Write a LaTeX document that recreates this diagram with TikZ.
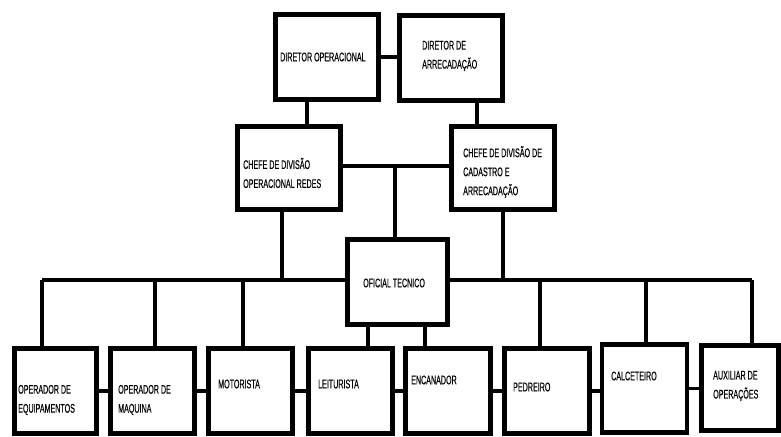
\documentclass[tikz,border=0pt]{standalone}
\usepackage{fontspec}
\setmainfont[FakeBold=0.4]{Liberation Sans}
\usetikzlibrary{positioning}
\newcommand{\nar}[1]{\scalebox{0.57}[1]{#1}}

\begin{document}
\begin{tikzpicture}[x=1pt,y=-1pt,
    box/.style={draw,line width=4.8pt,minimum width=84pt,minimum height=84.5pt,inner sep=0pt},
    txt/.style={anchor=west,align=left,inner sep=0pt,font=\fontsize{12.5}{19}\selectfont},
    link/.style={line width=3.8pt}]
  \useasboundingbox (0,0) rectangle (781,436);
  % chefes
  \node[box,minimum width=103.5pt,minimum height=85.5pt] (dop) at (327,57) {};
  \node[box,minimum width=103.5pt,minimum height=85.5pt] (dar) at (451,58) {};
  \node[box,minimum width=103.5pt,minimum height=83.5pt] (cop) at (289,168) {};
  \node[box,minimum width=103.5pt,minimum height=83.5pt] (ccad) at (503,168) {};
  \node[box,minimum width=100.5pt,minimum height=85.5pt] (ofi) at (397.5,282) {};
  % cargos
  \node[box,minimum width=82.5pt] (b1) at (55.5,391) {};
  \node[box] (b2) at (152.5,391) {};
  \node[box] (b3) at (250.5,391) {};
  \node[box] (b4) at (350.5,391) {};
  \node[box,minimum width=85.5pt] (b5) at (448,391) {};
  \node[box,minimum width=85.5pt] (b6) at (547,391) {};
  \node[box,minimum width=85pt,minimum height=88pt] (b7) at (644.5,388.5) {};
  \node[box,minimum width=77pt,minimum height=85pt] (b8) at (740,388) {};

  \node[txt] (dop-t) at (280,57) {\nar{DIRETOR OPERACIONAL}};
  \node[txt] (dar-t) at (422,56) {\nar{DIRETOR DE}\\\nar{ARRECADAÇÃO}};
  \node[txt] (cop-t) at (243,173) {\nar{CHEFE DE DIVISÃO}\\\nar{OPERACIONAL REDES}};
  \node[txt] (ccad-t) at (463,172) {\nar{CHEFE DE DIVISÃO DE}\\\nar{CADASTRO E}\\\nar{ARRECADAÇÃO}};
  \node[txt] (ofi-t) at (363,283) {\nar{OFICIAL TECNICO}};
  \node[txt] (b1-t) at (18,400) {\nar{OPERADOR DE}\\\nar{EQUIPAMENTOS}};
  \node[txt] (b2-t) at (118,400) {\nar{OPERADOR DE}\\\nar{MAQUINA}};
  \node[txt] (b3-t) at (218,384) {\nar{MOTORISTA}};
  \node[txt] (b4-t) at (318,384) {\nar{LEITURISTA}};
  \node[txt] (b5-t) at (411,380) {\nar{ENCANADOR}};
  \node[txt] (b6-t) at (513,387) {\nar{PEDREIRO}};
  \node[txt] (b7-t) at (611,376) {\nar{CALCETEIRO}};
  \node[txt] (b8-t) at (713,386) {\nar{AUXILIAR DE}\\\nar{OPERAÇÕES}};

  \coordinate (cjoin) at (395,166);
  \coordinate (busL) at (42,280);
  \coordinate (busR) at (752,280);

  \draw[link] (dop.east) -- (dop.east -| dar.west);
  \draw[link] ([xshift=-20pt]dop.south) -- ([xshift=-20pt]dop.south |- cop.north);
  \draw[link] ([xshift=26pt]dar.south) -- ([xshift=26pt]dar.south |- ccad.north);
  \draw[link] (cop.east |- cjoin) -- (ccad.west |- cjoin);
  \draw[link] (cjoin) -- (cjoin |- ofi.north);
  \draw[link] ([xshift=-7pt]cop.south) -- ([xshift=-7pt]cop.south |- busL);
  \draw[link] (ccad.south) -- (ccad.south |- busL);
  \draw[link] (busL) -- (busL -| ofi.west);
  \draw[link] (busR -| ofi.east) -- (busR);
  \draw[link] (busL) -- (busL |- b1.north);
  \draw[link] (busR) -- (busR |- b8.north);
  \foreach \b/\s in {b2/2.5,b3/-7.5,b6/-7,b7/1.5}
    \draw[link] ([xshift=\s pt]\b.north |- busL) -- ([xshift=\s pt]\b.north);
  \draw[link] ([xshift=-29.5pt]ofi.south) -- ([xshift=-29.5pt]ofi.south |- b4.north);
  \draw[link] ([xshift=27.5pt]ofi.south) -- ([xshift=27.5pt]ofi.south |- b5.north);
  \foreach \a/\b in {b1/b2,b2/b3,b3/b4,b4/b5,b5/b6,b6/b7,b7/b8}
    \draw[link] (\a.east) -- (\a.east -| \b.west);
\end{tikzpicture}
\end{document}
